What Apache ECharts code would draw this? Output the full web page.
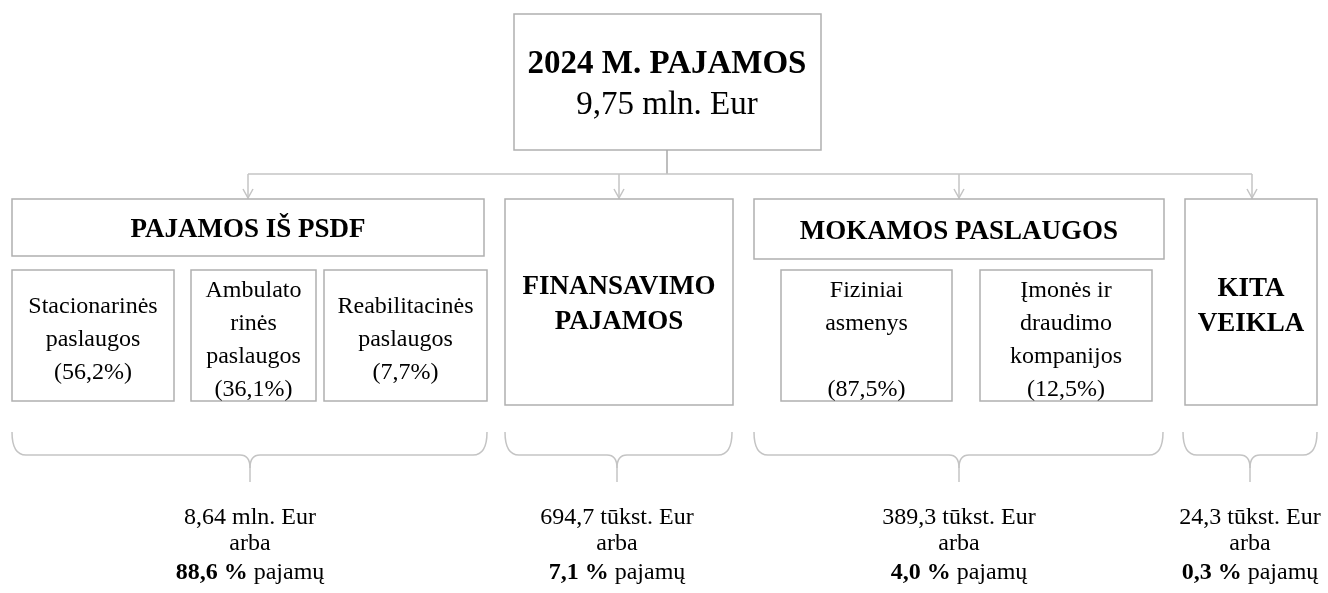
<!DOCTYPE html>
<html>
<head>
<meta charset="utf-8">
<script src="https://cdn.jsdelivr.net/npm/echarts@6/dist/echarts.min.js"></script>
<style>
  html, body { margin: 0; padding: 0; background: #fff; }
  #main { width: 1328px; height: 593px; }
</style>
</head>
<body>
<div id="main"></div>
<script>
// data
var totalTitle = '2024 M. PAJAMOS';
var totalAmount = '9,75 mln. Eur';
var groupNames = ['PAJAMOS IŠ PSDF', 'FINANSAVIMO\nPAJAMOS', 'MOKAMOS PASLAUGOS', 'KITA\nVEIKLA'];
var groupAmounts = ['8,64 mln. Eur', '694,7 tūkst. Eur', '389,3 tūkst. Eur', '24,3 tūkst. Eur'];
var groupShares = [88.6, 7.1, 4.0, 0.3];
var psdfParts = ['Stacionarinės\npaslaugos', 'Ambulato\nrinės\npaslaugos', 'Reabilitacinės\npaslaugos'];
var psdfShares = [56.2, 36.1, 7.7];
var paidParts = ['Fiziniai\nasmenys\n', 'Įmonės ir\ndraudimo\nkompanijos'];
var paidShares = [87.5, 12.5];

// layout
var FONT = '"Liberation Serif", "Times New Roman", serif';
var BORDER = '#b0b0b0';
var LINE = '#c4c4c4';
var groupBoxes = [
    [12, 199, 472, 57],
    [505, 199, 228, 206],
    [754, 199, 410, 60],
    [1185, 199, 132, 206]
];
var groupTextY = [230, 305, 232, 307];
var groupArrowX = [248, 619, 959, 1252];
var braces = [[12, 487, 250], [505, 732, 617], [754, 1163, 959], [1183, 1317, 1250]];
var psdfBoxes = [[12, 270, 162, 131], [191, 270, 125, 131], [324, 270, 163, 131]];
var paidBoxes = [[781, 270, 171, 131], [980, 270, 172, 131]];

var fmt = function (v) {
    return v.toFixed(1).replace('.', ',');
};

var box = function (b) {
    return {
        type: 'rect',
        shape: { x: b[0], y: b[1], width: b[2], height: b[3] },
        style: { fill: '#fff', stroke: BORDER, lineWidth: 1.5 }
    };
};
var text = function (x, y, str, size, bold, lh) {
    return {
        type: 'text',
        x: x,
        y: y,
        style: {
            text: str,
            fontFamily: FONT,
            fontSize: size,
            fontWeight: bold ? 'bold' : 'normal',
            lineHeight: lh || size * 1.2,
            fill: '#000',
            align: 'center',
            verticalAlign: 'middle'
        }
    };
};
var line = function (points, color) {
    return {
        type: 'polyline',
        shape: { points: points },
        style: { stroke: color || LINE, lineWidth: 1.5, fill: null }
    };
};
var curve = function (a, b, c) {
    return {
        type: 'bezierCurve',
        shape: { x1: a[0], y1: a[1], x2: b[0], y2: b[1], cpx1: c[0], cpy1: c[1] },
        style: { stroke: LINE, lineWidth: 1.5, fill: null }
    };
};

var elements = [];

// top box
var totalText = text(667, 85, totalTitle + '\n{n|' + totalAmount + '}', 33, true, 41);
totalText.style.rich = {
    n: { fontFamily: FONT, fontSize: 33, fontWeight: 'normal', lineHeight: 41 }
};
elements.push(box([514, 14, 307, 136]));
elements.push(totalText);

// connectors
elements.push(line([[667, 150], [667, 174]], '#a8a8a8'));
elements.push(line([[groupArrowX[0], 174], [groupArrowX[groupArrowX.length - 1], 174]]));
groupArrowX.forEach(function (x) {
    elements.push(line([[x, 174], [x, 198]]));
    elements.push(line([[x - 5, 189], [x, 198], [x + 5, 189]]));
});

// group boxes
groupNames.forEach(function (name, i) {
    var b = groupBoxes[i];
    elements.push(box(b));
    elements.push(text(b[0] + b[2] / 2, groupTextY[i], name, 27, true, 35));
});

// PSDF parts
psdfParts.forEach(function (name, i) {
    var b = psdfBoxes[i];
    elements.push(box(b));
    elements.push(text(b[0] + b[2] / 2, 340, name + '\n(' + fmt(psdfShares[i]) + '%)', 24, false, 33));
});

// paid service parts
paidParts.forEach(function (name, i) {
    var b = paidBoxes[i];
    elements.push(box(b));
    elements.push(text(b[0] + b[2] / 2, 340, name + '\n(' + fmt(paidShares[i]) + '%)', 24, false, 33));
});

// braces and totals
braces.forEach(function (br, i) {
    var x1 = br[0], x2 = br[1], t = br[2];
    elements.push(curve([x1, 432], [x1 + 14, 455], [x1, 455]));
    elements.push(line([[x1 + 14, 455], [t - 10, 455]]));
    elements.push(curve([t - 10, 455], [t, 468], [t, 455]));
    elements.push(line([[t, 468], [t, 482]]));
    elements.push(curve([t + 10, 455], [t, 468], [t, 455]));
    elements.push(line([[t + 10, 455], [x2 - 14, 455]]));
    elements.push(curve([x2 - 14, 455], [x2, 432], [x2, 455]));

    elements.push(text(t, 518, groupAmounts[i], 24, false));
    elements.push(text(t, 544, 'arba', 24, false));
    var last = text(t, 573, '{b|' + fmt(groupShares[i]) + ' %} pajamų', 24, false);
    last.style.rich = { b: { fontFamily: FONT, fontSize: 24, fontWeight: 'bold' } };
    elements.push(last);
});

var chart = echarts.init(document.getElementById('main'));
chart.setOption({
    backgroundColor: '#fff',
    animation: false,
    graphic: { elements: elements }
});
</script>
</body>
</html>
